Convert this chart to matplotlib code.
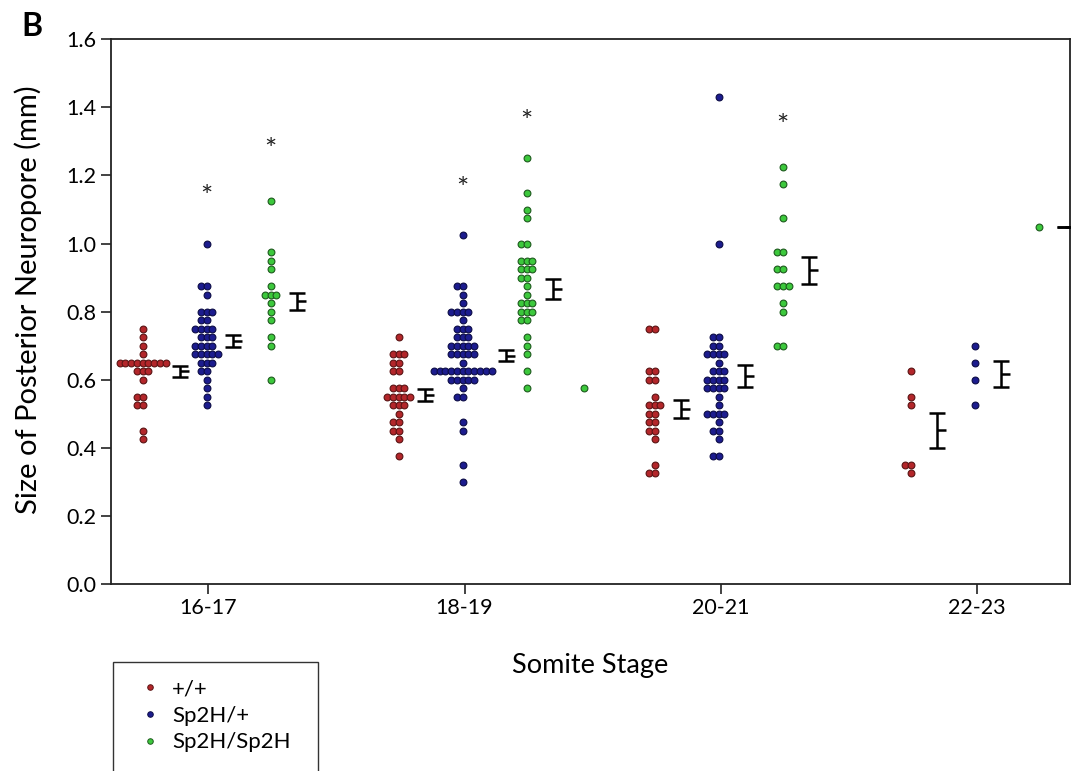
import matplotlib
matplotlib.use("Agg")
import matplotlib.pyplot as plt
from matplotlib.lines import Line2D
from matplotlib.patches import Rectangle

plt.rcParams['font.family'] = ['Lato', 'DejaVu Sans']

stages = ['16-17', '18-19', '20-21', '22-23']
genotypes = ['+/+', 'Sp2H/+', 'Sp2H/Sp2H']

# individual embryo measurements (mm), per genotype and stage
wt = [
    [0.75, 0.725, 0.70, 0.675, 0.65, 0.65, 0.65, 0.65, 0.65, 0.65, 0.65, 0.65, 0.65,
     0.625, 0.625, 0.625, 0.60, 0.55, 0.55, 0.525, 0.525, 0.45, 0.425],
    [0.725, 0.675, 0.675, 0.675, 0.65, 0.65, 0.625, 0.625, 0.575, 0.575, 0.575,
     0.55, 0.55, 0.55, 0.55, 0.55, 0.525, 0.525, 0.525, 0.50, 0.475, 0.475,
     0.45, 0.45, 0.425, 0.375],
    [0.75, 0.75, 0.625, 0.625, 0.60, 0.60, 0.55, 0.525, 0.525, 0.525, 0.50, 0.50,
     0.475, 0.475, 0.45, 0.45, 0.425, 0.35, 0.325, 0.325],
    [0.625, 0.55, 0.525, 0.35, 0.35, 0.325],
]
het = [
    [1.0, 0.875, 0.875, 0.85, 0.80, 0.80, 0.80, 0.775, 0.775, 0.75, 0.75, 0.75, 0.75,
     0.725, 0.725, 0.725, 0.70, 0.70, 0.70, 0.70, 0.675, 0.675, 0.675, 0.675, 0.675,
     0.65, 0.65, 0.65, 0.625, 0.625, 0.60, 0.575, 0.55, 0.525],
    [1.025, 0.875, 0.875, 0.85, 0.825, 0.80, 0.80, 0.80, 0.80, 0.775, 0.75, 0.75, 0.75,
     0.725, 0.725, 0.725, 0.70, 0.70, 0.70, 0.70, 0.70, 0.675, 0.675, 0.675, 0.675,
     0.675, 0.65, 0.625, 0.625, 0.625, 0.625, 0.625, 0.625, 0.625, 0.625, 0.625,
     0.625, 0.625, 0.60, 0.60, 0.60, 0.60, 0.60, 0.575, 0.55, 0.55, 0.475, 0.45,
     0.35, 0.30],
    [1.43, 1.0, 0.725, 0.725, 0.70, 0.70, 0.675, 0.675, 0.675, 0.675, 0.65, 0.625,
     0.625, 0.625, 0.60, 0.60, 0.60, 0.60, 0.575, 0.575, 0.575, 0.575, 0.55, 0.525,
     0.50, 0.50, 0.50, 0.50, 0.475, 0.45, 0.45, 0.425, 0.375, 0.375],
    [0.70, 0.65, 0.60, 0.525],
]
hom = [
    [1.125, 0.975, 0.95, 0.925, 0.875, 0.85, 0.85, 0.85, 0.825, 0.80, 0.775, 0.725,
     0.70, 0.60],
    [1.25, 1.15, 1.10, 1.075, 1.0, 1.0, 0.95, 0.95, 0.95, 0.925, 0.925, 0.925, 0.90,
     0.90, 0.875, 0.85, 0.825, 0.825, 0.825, 0.80, 0.80, 0.80, 0.775, 0.775, 0.725,
     0.70, 0.675, 0.625, 0.575],
    [1.225, 1.175, 1.075, 0.975, 0.975, 0.925, 0.925, 0.875, 0.875, 0.875, 0.825,
     0.80, 0.70, 0.70],
    [1.05],
]
hom_extra_stage = [1]
hom_extra_value = [0.575]

# mean and SEM per genotype, per stage
wt_mean = [0.625, 0.554, 0.514, 0.451]
wt_sem = [0.0155, 0.0175, 0.0265, 0.0525]
het_mean = [0.715, 0.671, 0.610, 0.618]
het_sem = [0.0175, 0.017, 0.032, 0.038]
hom_mean = [0.830, 0.866, 0.921, 1.05]
hom_sem = [0.0245, 0.029, 0.040, 0.0]

# significance marks: (stage index, genotype index, height)
star_stage = [0, 0, 1, 1, 2]
star_geno = [1, 2, 1, 2, 2]
star_y = [1.158, 1.296, 1.181, 1.377, 1.365]

fills = ['#B3262A', '#1C1C8E', '#3CC83C']
edges = ['#5A1414', '#0C0C45', '#1E5A1E']
col_off = [-0.257, -0.007, 0.243]
dx = 0.0225

fig = plt.figure(figsize=(10.73, 7.71), dpi=100)
ax = fig.add_axes([0.1034, 0.2425, 0.8938, 0.7065])


def dot_layout(values, center):
    counts = {}
    for v in values:
        counts[v] = counts.get(v, 0) + 1
    xs, ys = [], []
    right = 0
    for v, n in counts.items():
        for i in range(n):
            xs.append(center + (i - n // 2) * dx)
            ys.append(v)
        right = max(right, (n - 1 - n // 2) * dx)
    return xs, ys, right


all_data = [wt, het, hom]
all_mean = [wt_mean, het_mean, hom_mean]
all_sem = [wt_sem, het_sem, hom_sem]

for g in range(3):
    for s in range(len(stages)):
        c = s + col_off[g]
        xs, ys, right = dot_layout(all_data[g][s], c)
        ax.scatter(xs, ys, s=24, color=fills[g], edgecolor=edges[g],
                   linewidth=0.8, zorder=3)
        bx = c + max(0.104, right + 0.055)
        ax.errorbar([bx], [all_mean[g][s]], yerr=[all_sem[g][s]], fmt='none',
                    ecolor='black', elinewidth=1.8, capsize=6, capthick=1.8,
                    zorder=4)
        ax.plot([bx, bx + 0.035], [all_mean[g][s]] * 2, color='black',
                lw=1.8, zorder=4, solid_capstyle='butt')

ax.scatter([st + 0.468 for st in hom_extra_stage], hom_extra_value, s=24,
           color=fills[2], edgecolor=edges[2], linewidth=0.8, zorder=3)

for st, gi, yv in zip(star_stage, star_geno, star_y):
    ax.text(st + col_off[gi], yv - 0.024, '*', ha='center', va='center',
            fontsize=21, color='#222222')

ax.set_xlim(-0.381, 3.365)
ax.set_ylim(0, 1.6)
ax.set_xticks(range(len(stages)))
ax.set_xticklabels(stages)
ax.set_yticks([0, 0.2, 0.4, 0.6, 0.8, 1.0, 1.2, 1.4, 1.6])
ax.set_yticklabels(['%.1f' % v for v in ax.get_yticks()])
ax.tick_params(labelsize=15.5, length=7, width=1.2, color='#222222')
ax.tick_params(axis='x', pad=3)
for sp in ax.spines.values():
    sp.set_linewidth(1.3)
    sp.set_color('#222222')

ax.set_xlabel('Somite Stage', fontsize=19.5, labelpad=25)
ax.set_ylabel('Size of Posterior Neuropore (mm)', fontsize=21)
ax.yaxis.set_label_coords(-0.072, 0.522)

fig.text(0.02, 0.966, 'B', fontsize=23, fontweight='bold', va='center')

# legend box runs past the bottom edge of the figure, as in the original
fig.patches.append(Rectangle((113 / 1073, -0.02), 205 / 1073, 0.02 + 109 / 771,
                             transform=fig.transFigure, fill=False,
                             edgecolor='#333333', linewidth=1.0))
handles = [Line2D([], [], ls='none', marker='o', markersize=4,
                  markerfacecolor=fills[i], markeredgecolor=edges[i],
                  markeredgewidth=0.7) for i in range(3)]
leg = fig.legend(handles, genotypes, loc='upper left',
                 bbox_to_anchor=(139 / 1073, 1 - 679 / 771), fontsize=16,
                 frameon=False, borderpad=0, labelspacing=0.3,
                 handlelength=1.0, handletextpad=0.5, borderaxespad=0)

fig.savefig('out.png', dpi=100)
